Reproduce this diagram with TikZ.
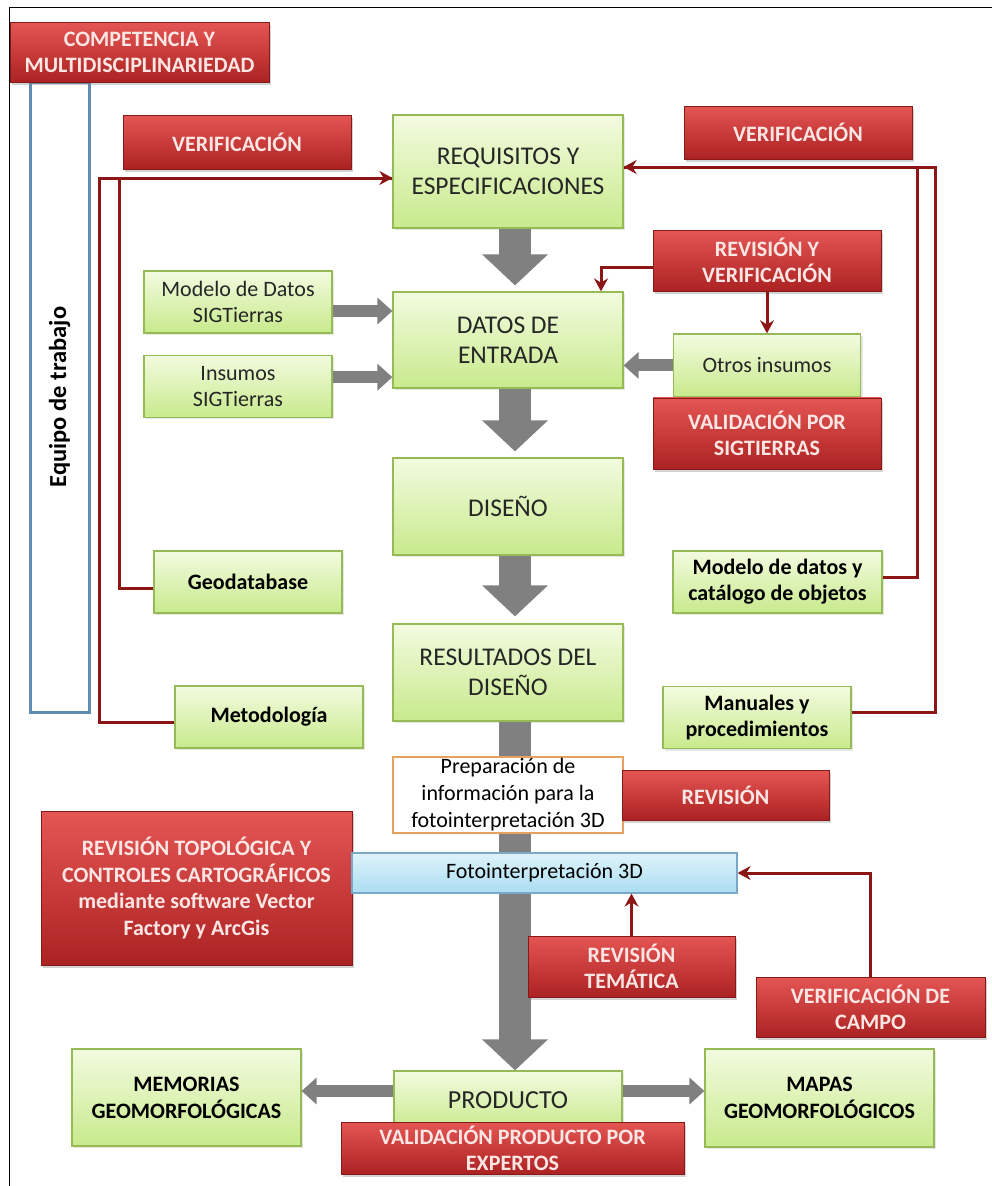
\documentclass[tikz,border=0pt]{standalone}
\usepackage{fontspec}
\setmainfont{Carlito}
\usepackage{tikz}
\usetikzlibrary{arrows.meta}
\usetikzlibrary{shadows}
\usetikzlibrary{positioning}
\definecolor{verdeclaro}{RGB}{243,251,224}
\definecolor{verdeoscuro}{RGB}{200,234,140}
\definecolor{bordeverde}{RGB}{150,186,86}
\definecolor{rojoclaro}{RGB}{228,86,84}
\definecolor{rojooscuro}{RGB}{172,34,34}
\definecolor{borderojo}{RGB}{135,25,25}
\definecolor{linearoja}{RGB}{140,22,22}
\definecolor{textorojo}{RGB}{252,230,228}
\definecolor{azulborde}{RGB}{96,140,178}
\definecolor{celeste}{RGB}{222,243,251}
\definecolor{celesteosc}{RGB}{170,221,241}
\definecolor{bordeceleste}{RGB}{120,170,200}
\definecolor{naranja}{RGB}{230,160,96}
\definecolor{gris}{RGB}{128,128,128}
\tikzset{
    caja/.style={
           rectangle,
           inner sep=2pt,
           align=center,
           },
    paso/.style={
           caja,
           draw=bordeverde, line width=1.2pt,
           top color=verdeclaro, bottom color=verdeoscuro,
           minimum width=230pt, minimum height=97pt,
           text=black!85,
           font=\fontsize{25.5}{30}\selectfont,
           drop shadow={opacity=.2, shadow xshift=2pt, shadow yshift=-2pt},
           },
    insumo/.style={
           paso,
           minimum width=188pt, minimum height=62pt,
           font=\fontsize{22}{26}\selectfont,
           },
    doc/.style={
           insumo,
           text=black,
           font=\bfseries\fontsize{22}{26}\selectfont,
           },
    control/.style={
           caja,
           draw=borderojo, line width=.6pt,
           top color=rojoclaro, bottom color=rojooscuro,
           minimum width=228pt,
           text=textorojo,
           font=\bfseries\fontsize{22}{26}\selectfont,
           drop shadow={opacity=.35, shadow xshift=2pt, shadow yshift=-3pt},
           },
    grueso/.style={draw=gris, line width=32pt, -{Triangle[length=31pt,width=64pt]}},
    delgado/.style={draw=gris, line width=12pt, -{Triangle[length=15pt,width=26pt]}},
    retro/.style={draw=linearoja, line width=3pt, -{Stealth[length=13pt,width=14pt]}},
}
\begin{document}
\begin{tikzpicture}[x=1pt, y=-1pt]
      \useasboundingbox (0,0) rectangle (992,1186);
      \draw[line width=1pt] (9,1186) -- (9,7) -- (992,7);

      % equipo
      \node[caja, rotate=90, draw=azulborde, line width=3pt, fill=white,
            minimum width=630pt, minimum height=59pt,
            font=\bfseries\fontsize{24.5}{29}\selectfont] (equipo) at (59.5,397) {Equipo de trabajo};
      \node[control, minimum width=259pt, minimum height=60pt] (competencia) at (139.5,52) {COMPETENCIA Y\\MULTIDISCIPLINARIEDAD};

      % columna central
      \node[paso, minimum height=113pt] (requisitos) at (508,171.5) {REQUISITOS Y\\ESPECIFICACIONES};
      \node[paso, minimum height=96pt]  (datos)      at (508,340)   {DATOS DE\\ENTRADA};
      \node[paso]                       (diseno)     at (508,506.5) {DISEÑO};
      \node[paso]                       (resultados) at (508,672.5) {RESULTADOS DEL\\DISEÑO};

      % controles arriba
      \node[control, minimum height=54pt] (verif_izq) at (237,142)   {VERIFICACIÓN};
      \node[control, minimum height=53pt] (verif_der) at (798,132.5) {VERIFICACIÓN};
      \node[control, minimum height=61pt] (rev_verif) at (767,260.5) {REVISIÓN Y\\VERIFICACIÓN};
      \node[insumo, minimum width=187pt, minimum height=63pt] (otros) [below=42pt of rev_verif] {Otros insumos};
      \node[control, minimum height=71pt] (val_sig) [below=0pt of otros] {VALIDACIÓN POR\\SIGTIERRAS};

      % insumos
      \node[insumo] (modelo)  at (238,302)                 {Modelo de Datos\\SIGTierras};
      \node[insumo] (insumos) [below=21pt of modelo]       {Insumos\\SIGTierras};

      % documentos
      \node[doc]                     (geodb)       at (248,582)   {Geodatabase};
      \node[doc, minimum width=209pt] (catalogo)   at (777.5,582) {Modelo de datos y\\catálogo de objetos};
      \node[doc]                     (metodologia) at (269,717)   {Metodología};
      \node[doc]                     (manuales)    at (757,717.5) {Manuales y\\procedimientos};

      % producto
      \node[paso, minimum width=228pt, minimum height=59pt, font=\fontsize{26}{30}\selectfont] (producto) at (508,1100.5) {PRODUCTO};
      \draw[grueso] ([xshift=7pt]resultados.south) -- ([xshift=7pt]producto.north);

      \node[caja, draw=naranja, line width=2pt, fill=white, minimum width=230pt, minimum height=76pt,
            font=\fontsize{22}{27}\selectfont] (preparacion) at (508,795) {Preparación de\\información para la\\fotointerpretación 3D};
      \node[control, minimum width=207pt, minimum height=50pt] (revision) at (725.5,795) {REVISIÓN};
      \node[control, minimum width=311pt, minimum height=154pt, font=\bfseries\fontsize{22}{26.5}\selectfont] (topologia) at (196.5,888)
            {REVISIÓN TOPOLÓGICA Y\\CONTROLES CARTOGRÁFICOS\\mediante software Vector\\Factory y ArcGis};
      \node[caja, draw=bordeceleste, line width=1.2pt, top color=celeste, bottom color=celesteosc,
            minimum width=385pt, minimum height=40pt, font=\fontsize{22}{26}\selectfont] (foto) at (544.5,873) {Fotointerpretación 3D};
      \node[control, minimum width=207pt, minimum height=61pt] (tematica) at (631.5,966.5) {REVISIÓN\\TEMÁTICA};
      \node[control, minimum width=229pt, minimum height=60pt] (campo)    at (870.5,1007)  {VERIFICACIÓN DE\\CAMPO};
      \node[doc, minimum width=229pt, minimum height=97pt, font=\bfseries\fontsize{22}{27}\selectfont] (memorias) at (186.5,1097.5) {MEMORIAS\\GEOMORFOLÓGICAS};
      \node[doc, minimum width=229pt, minimum height=98pt, font=\bfseries\fontsize{22}{27}\selectfont] (mapas)    at (819.5,1098)   {MAPAS\\GEOMORFOLÓGICOS};
      \node[control, minimum width=343pt, minimum height=52pt] (validacion) at (512.5,1148) {VALIDACIÓN PRODUCTO POR\\EXPERTOS};

      % flechas grises
      \draw[grueso, shorten >=6pt] ([xshift=7pt]requisitos.south) -- ([xshift=7pt]datos.north);
      \draw[grueso, shorten >=6pt] ([xshift=7pt]datos.south) -- ([xshift=7pt]diseno.north);
      \draw[grueso, shorten >=7pt] ([xshift=7pt]diseno.south) -- ([xshift=7pt]resultados.north);
      \coordinate (m1) at ([yshift=-9pt]modelo.east);
      \coordinate (m2) at ([yshift=9pt]insumos.east);
      \coordinate (p1) at ([yshift=9.5pt]producto.west);
      \coordinate (p2) at ([yshift=9.5pt]producto.east);
      \draw[delgado] (m1) -- (m1 -| datos.west);
      \draw[delgado] (m2) -- (m2 -| datos.west);
      \draw[delgado] (otros.west) -- (otros.west -| datos.east);
      \draw[delgado] (p1) -- (p1 -| memorias.east);
      \draw[delgado] (p2) -- (p2 -| mapas.west);

      % retroalimentacion
      \draw[retro] ([yshift=-5pt]metodologia.west) -- ++(-75,0) |- ([yshift=-6.5pt]requisitos.west);
      \draw[retro, -] ([yshift=-6pt]geodb.west) -- ++(-34,0) |- ([yshift=-6.5pt]requisitos.west);
      \draw[retro] ([yshift=5pt]manuales.east) -- ++(84,0) |- ([yshift=4.5pt]requisitos.east);
      \draw[retro, -] ([yshift=5pt]catalogo.east) -- ++(35,0) |- ([yshift=4.5pt]requisitos.east);
      \draw[retro] ([yshift=-6.5pt]rev_verif.west) -| ([xshift=93pt]datos.north);
      \draw[retro] (rev_verif.south) -- (otros.north);
      \draw[retro] (tematica.north) -- (tematica.north |- foto.south);
      \draw[retro] (campo.north) |- (foto.east);
\end{tikzpicture}
\end{document}
